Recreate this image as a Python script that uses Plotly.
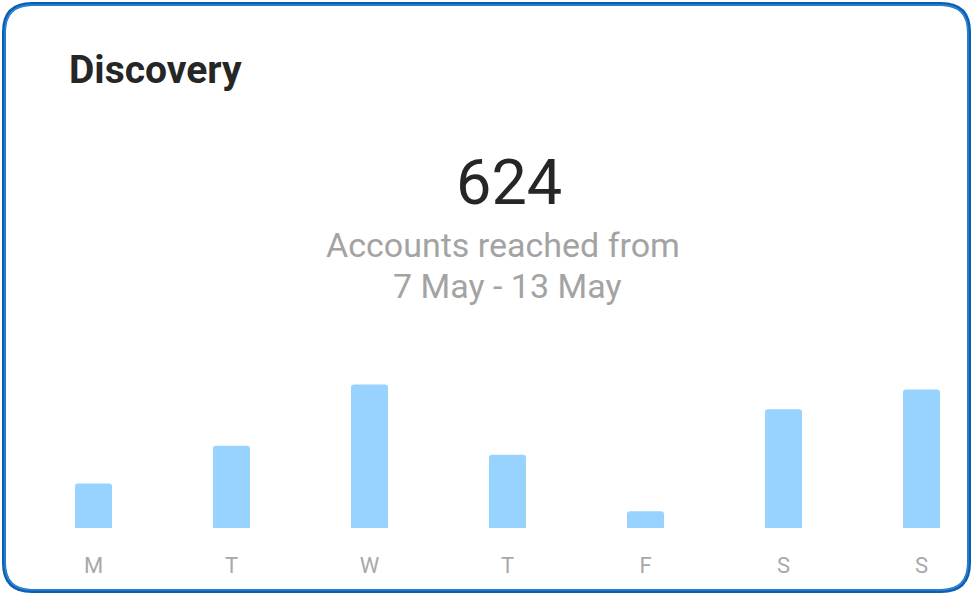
import plotly.graph_objects as go

# data
days = ['M', 'T', 'W', 'T', 'F', 'S', 'S']
reach = [45, 83, 145, 74, 17, 120, 140]
total_reached = 624
title_text = 'Discovery'
subtitle_lines = ['Accounts reached from', '7 May - 13 May']

W, H = 974, 596


def px(x, y):
    """pixel -> paper coords (margins are zero so paper == whole figure)"""
    return x / W, (H - y) / H


def rounded_rect(x0, y0, x1, y1, r):
    def p(x, y):
        a, b = px(x, y)
        return f'{a:.5f},{b:.5f}'
    return (f'M {p(x0 + r, y0)} L {p(x1 - r, y0)} Q {p(x1, y0)} {p(x1, y0 + r)} '
            f'L {p(x1, y1 - r)} Q {p(x1, y1)} {p(x1 - r, y1)} '
            f'L {p(x0 + r, y1)} Q {p(x0, y1)} {p(x0, y1 - r)} '
            f'L {p(x0, y0 + r)} Q {p(x0, y0)} {p(x0 + r, y0)} Z')


x_idx = list(range(len(days)))

fig = go.Figure(go.Bar(
    x=x_idx,
    y=reach,
    width=0.268,
    marker=dict(color='#97d3fe', cornerradius=3, line=dict(width=0)),
    hovertemplate='%{y}<extra></extra>',
))

fig.update_layout(
    width=W, height=H,
    margin=dict(l=0, r=0, t=0, b=0),
    paper_bgcolor='white',
    plot_bgcolor='white',
    showlegend=False,
    font=dict(family='Roboto'),
    xaxis=dict(
        domain=[0, 1],
        range=[-93.5 / 138, (W - 93.5) / 138],
        tickmode='array', tickvals=x_idx, ticktext=days,
        tickfont=dict(size=22, color='#a8a8a8'),
        ticklabelstandoff=22,
        showgrid=False, zeroline=False, showline=False, ticks='',
        fixedrange=True,
    ),
    yaxis=dict(
        domain=[68 / H, 266 / H],
        range=[0, 200],
        visible=False,
        fixedrange=True,
    ),
)

# card border: dark outer stroke + lighter inner stroke
fig.add_shape(type='path', xref='paper', yref='paper',
              path=rounded_rect(4, 4, 969, 591, 28),
              line=dict(color='#0d5fae', width=4))
fig.add_shape(type='path', xref='paper', yref='paper',
              path=rounded_rect(5, 5, 968, 590, 27),
              line=dict(color='#2a86da', width=1.5))

tx, ty = px(67, 70)
fig.add_annotation(x=tx, y=ty, xref='paper', yref='paper', xanchor='left', yanchor='middle',
                   text=f'<b>{title_text}</b>', showarrow=False,
                   font=dict(size=39, color='#262626'))

nx, ny = px(509, 183)
fig.add_annotation(x=nx, y=ny, xref='paper', yref='paper', xanchor='center', yanchor='middle',
                   text=str(total_reached), showarrow=False,
                   font=dict(size=63, color='#262626'))

for line, (cx, cy) in zip(subtitle_lines, [(503, 245), (508, 286)]):
    sx, sy = px(cx, cy)
    fig.add_annotation(x=sx, y=sy, xref='paper', yref='paper', xanchor='center', yanchor='middle',
                       text=line, showarrow=False,
                       font=dict(size=34, color='#a3a3a3'))

fig.write_html("out.html", config={'displayModeBar': False},
               post_script="document.body.style.margin='0';document.body.style.overflow='hidden';")
